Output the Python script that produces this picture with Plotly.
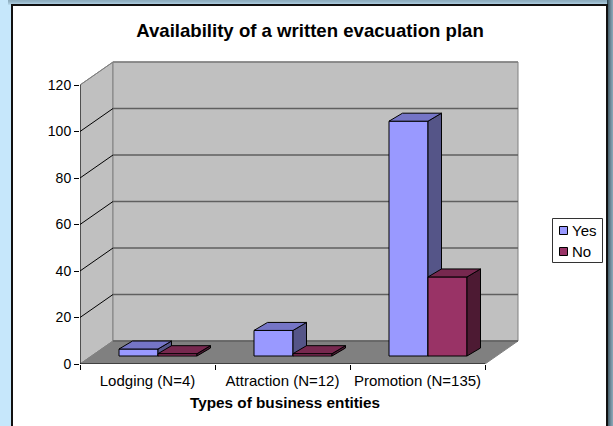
import plotly.graph_objects as go

# Data
categories = ["Lodging (N=4)", "Attraction (N=12)", "Promotion (N=135)"]
yes_values = [3, 11, 101]
no_values = [1, 1, 34]
y_ticks = [0, 20, 40, 60, 80, 100, 120]
legend_names = ["Yes", "No"]
title_text = "Availability of a written evacuation plan"
x_title_text = "Types of business entities"

# Geometry (pixels) of the pseudo-3D projection
W, H = 613, 426
PX_X0, PX_Y0 = 80, 364
PX_PER_CAT = 135.0
PX_PER_VAL = 279.0 / 120
WALL_DX, WALL_DY = 33.0, 23.0
BAR_OFF_X, BAR_W = 39.0, 39.0
BAR_DX, BAR_DY = 13.5, 8.0
BAR_BASE_PX = 8.0

dx_wall = WALL_DX / PX_PER_CAT
dy_wall = WALL_DY / PX_PER_VAL
dx_bar = BAR_DX / PX_PER_CAT
dy_bar = BAR_DY / PX_PER_VAL
bar_w = BAR_W / PX_PER_CAT
bar_off = BAR_OFF_X / PX_PER_CAT
base = BAR_BASE_PX / PX_PER_VAL
n = len(categories)
y_max = max(y_ticks)

x_end = n + dx_wall + 2 / PX_PER_CAT
y_end = y_max + dy_wall + 2 / PX_PER_VAL
plot_w = x_end * PX_PER_CAT
plot_h = y_end * PX_PER_VAL
M_L, M_T = PX_X0, PX_Y0 - plot_h
M_R, M_B = W - PX_X0 - plot_w, H - PX_Y0

FONT = "Liberation Sans, Arial, sans-serif"
WALL = "#C0C0C0"
FLOOR = "#808080"
YES_COLORS = ("#9999FF", "#7575C6", "#555588")
NO_COLORS = ("#993366", "#77284F", "#4D1A33")


def px(x):
    return (x - M_L) / plot_w


def py(y):
    return 1 - (y - M_T) / plot_h


def poly(xs, ys, fill, line="rgba(0,0,0,0)", width=1):
    path = "M " + " L ".join(f"{a:.5f},{b:.5f}" for a, b in zip(xs, ys)) + " Z"
    return dict(type="path", path=path, xref="x", yref="y", fillcolor=fill,
                line=dict(color=line, width=width), layer="below")


def seg(x0, y0, x1, y1, color, width=1):
    return dict(type="line", x0=x0, y0=y0, x1=x1, y1=y1, xref="x", yref="y",
                line=dict(color=color, width=width), layer="below")


def rect(x0, y0, x1, y1, fill, line=None, layer="below"):
    return dict(type="rect", xref="paper", yref="paper", x0=px(x0), x1=px(x1),
                y0=py(y1), y1=py(y0), fillcolor=fill,
                line=dict(width=1, color=line) if line else dict(width=0), layer=layer)


shapes = []
# shadow bands and chart frame
for i, c in enumerate(["#8FAEBF", "#93B3C5", "#9DBDCF", "#A9C9DC", "#B6D7EA"]):
    shapes.append(rect(8, i, W, i + 1, c))
for i, c in enumerate(["#2F434D", "#4A636F", "#5B7583", "#6B8695", "#7B97A6", "#87A3B2"]):
    shapes.append(rect(607 + i, 0, 608 + i, H, c))
shapes.append(rect(11, 4, 608, H, "#111111"))
shapes.append(rect(13, 6, 606, H, "#FFFFFF"))

# walls and floor
shapes.append(poly([0, dx_wall, dx_wall, 0], [0, dy_wall, y_max + dy_wall, y_max], WALL, "#808080"))
shapes.append(poly([dx_wall, n + dx_wall, n + dx_wall, dx_wall],
                   [dy_wall, dy_wall, y_max + dy_wall, y_max + dy_wall], WALL, "#808080", 1))
shapes.append(poly([0, n, n + dx_wall, dx_wall], [0, 0, dy_wall, dy_wall], FLOOR, "#808080"))
for v in y_ticks[1:]:
    shapes.append(seg(dx_wall, v + dy_wall, n + dx_wall, v + dy_wall,
                      "#808080" if v == y_max else "#5F5F5F", 1.5))
    shapes.append(seg(0, v, dx_wall, v + dy_wall, "#808080" if v == y_max else "#000000", 1))
shapes.append(seg(dx_wall, dy_wall, n + dx_wall, dy_wall, "#5F5F5F", 1.5))

# hand-drawn legend box so its tight proportions match the reference
shapes.append(rect(552.5, 218.5, 602.5, 262.5, "#FFFFFF", "#333333", "above"))
shapes.append(rect(559.5, 226.5, 567.5, 234.5, YES_COLORS[0], "#000000", "above"))
shapes.append(rect(559.5, 247.5, 567.5, 255.5, NO_COLORS[0], "#000000", "above"))

fig = go.Figure()


def add_series(name, values, slot, colors, xa, ya):
    front, top, side = colors
    lefts = [i + bar_off + slot * bar_w for i in range(n)]
    fig.add_trace(go.Bar(
        name=name, x=[a + bar_w / 2 for a in lefts], y=values, base=[base] * n,
        width=bar_w, marker=dict(color=front, line=dict(color="#000000", width=1)),
        xaxis=xa, yaxis=ya, showlegend=False,
    ))
    for a, v in zip(lefts, values):
        t = base + v
        b = a + bar_w
        fig.add_trace(go.Scatter(
            x=[b, b + dx_bar, b + dx_bar, b, b], y=[base, base + dy_bar, t + dy_bar, t, base],
            mode="lines", fill="toself", fillcolor=side, line=dict(color="#000000", width=1),
            showlegend=False, hoverinfo="skip", xaxis=xa, yaxis=ya, cliponaxis=False))
        fig.add_trace(go.Scatter(
            x=[a, b, b + dx_bar, a + dx_bar, a], y=[t, t, t + dy_bar, t + dy_bar, t],
            mode="lines", fill="toself", fillcolor=top, line=dict(color="#000000", width=1),
            showlegend=False, hoverinfo="skip", xaxis=xa, yaxis=ya, cliponaxis=False))


add_series(legend_names[0], yes_values, 0, YES_COLORS, "x", "y")
add_series(legend_names[1], no_values, 1, NO_COLORS, "x2", "y2")

# axis lines
fig.add_trace(go.Scatter(x=[0, 0], y=[0, y_max], mode="lines", line=dict(color="#000000", width=1),
                         showlegend=False, hoverinfo="skip", cliponaxis=False))
fig.add_trace(go.Scatter(x=[0, n], y=[0, 0], mode="lines", line=dict(color="#000000", width=1),
                         showlegend=False, hoverinfo="skip", cliponaxis=False))

annotations = [
    dict(text=f"<b>{x_title_text}</b>", xref="paper", yref="paper", x=px(284.5), xanchor="center",
         y=py(402), yanchor="middle", showarrow=False, font=dict(family=FONT, size=15.3, color="#000000")),
    dict(text=legend_names[0], xref="paper", yref="paper", x=px(570), xanchor="left", y=py(230),
         yanchor="middle", showarrow=False, font=dict(family=FONT, size=15, color="#000000")),
    dict(text=legend_names[1], xref="paper", yref="paper", x=px(570), xanchor="left", y=py(251.5),
         yanchor="middle", showarrow=False, font=dict(family=FONT, size=15, color="#000000")),
]

tick_font = dict(family=FONT, size=15, color="#000000")
y_tick_font = dict(family=FONT, size=14, color="#000000")
fig.update_layout(
    width=W, height=H, autosize=False,
    margin=dict(l=M_L, r=M_R, t=M_T, b=M_B, pad=0),
    paper_bgcolor="#C6E7FB", plot_bgcolor="rgba(0,0,0,0)",
    barmode="overlay", shapes=shapes, annotations=annotations, showlegend=False,
    title=dict(text=f"<b>{title_text}</b>", x=310 / W, xanchor="center", y=1 - 30 / H, yanchor="middle",
               font=dict(family=FONT, size=18.6, color="#000000")),
    font=tick_font,
    xaxis=dict(range=[0, x_end], tickmode="array",
               tickvals=[i + 0.5 for i in range(n)], ticktext=categories, ticks="", ticklen=0,
               ticklabelstandoff=6, tickfont=tick_font, showgrid=False, zeroline=False, showline=False,
               minor=dict(tickmode="array", tickvals=list(range(n + 1)), ticks="outside", ticklen=5,
                          tickcolor="#000000", tickwidth=1, showgrid=False)),
    yaxis=dict(range=[0, y_end], tickmode="array", tickvals=y_ticks, ticks="outside", ticklen=5,
               tickcolor="#000000", tickwidth=1, tickfont=y_tick_font, showgrid=False, zeroline=False,
               showline=False),
    xaxis2=dict(range=[0, x_end], overlaying="x", visible=False),
    yaxis2=dict(range=[0, y_end], overlaying="y", visible=False),
)
fig.write_html("out.html", config=dict(displayModeBar=False),
               post_script="document.body.style.margin='0';document.body.style.overflow='hidden';")
